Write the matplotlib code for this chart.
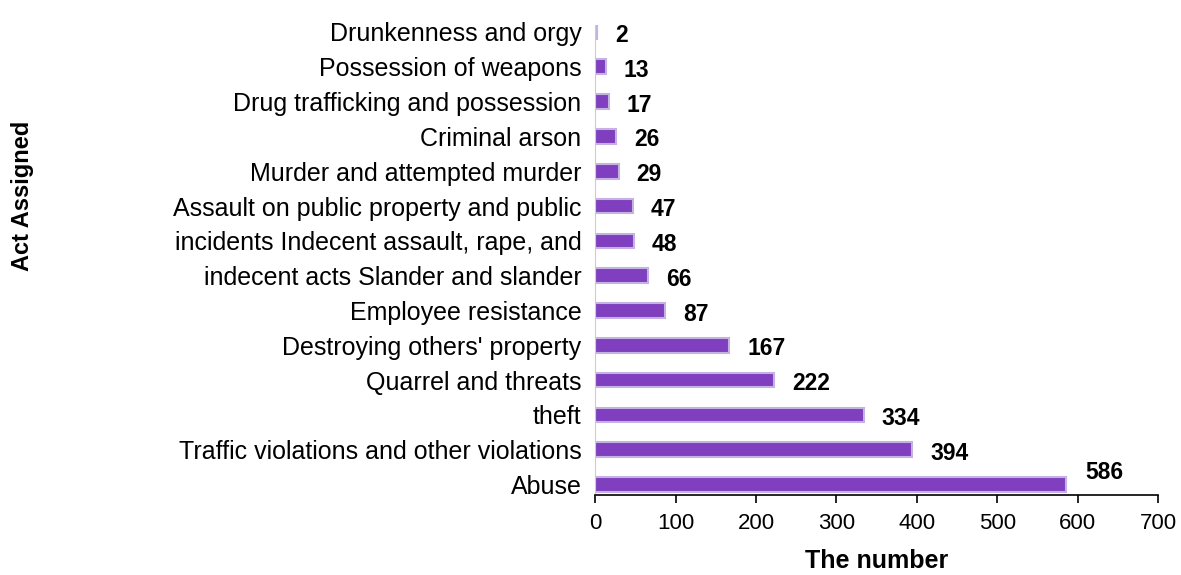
import numpy as np
import matplotlib
matplotlib.use("Agg")
import matplotlib.pyplot as plt

plt.rcParams['font.family'] = ['Liberation Sans', 'DejaVu Sans']

# categories from top to bottom as in the chart
acts = ["Drunkenness and orgy", "Possession of weapons", "Drug trafficking and possession",
        "Criminal arson", "Murder and attempted murder", "Assault on public property and public",
        "incidents Indecent assault, rape, and", "indecent acts Slander and slander",
        "Employee resistance", "Destroying others' property", "Quarrel and threats",
        "theft", "Traffic violations and other violations", "Abuse"]
counts = [2, 13, 17, 26, 29, 47, 48, 66, 87, 167, 222, 334, 394, 586]
xticks = [0, 100, 200, 300, 400, 500, 600, 700]

fig = plt.figure(figsize=(11.81, 5.75), dpi=100)
ax = fig.add_axes([0.504, 0.139, 0.4765, 0.8175])

y = np.arange(len(acts))[::-1]
ax.barh(y, counts, height=0.42, color='#7f3fbf', edgecolor='#c4b2e2', linewidth=1.5)

for yi, c in zip(y, counts):
    if yi == 0:
        ax.annotate(str(c), (c, yi), xytext=(14, 9), textcoords='offset points',
                    ha='left', va='center', fontsize=16.5, fontweight='bold')
    else:
        ax.annotate(str(c), (c, yi), xytext=(13, -2.5), textcoords='offset points',
                    ha='left', va='center', fontsize=16.5, fontweight='bold')

ax.set_yticks(y)
ax.set_yticklabels(acts, fontsize=18)
ax.tick_params(axis='y', length=0, pad=10)
ax.set_xticks(xticks)
ax.set_xticklabels([str(t) for t in xticks], fontsize=16)
ax.tick_params(axis='x', direction='out', length=6, width=1.2, pad=7)
ax.set_xlim(0, 700)
ax.set_ylim(-0.3, 13.2)

ax.spines['top'].set_visible(False)
ax.spines['right'].set_visible(False)
ax.spines['left'].set_color('#cccccc')
ax.spines['bottom'].set_linewidth(1.2)

fig.text(0.742, 0.012, "The number", fontsize=18, fontweight='bold', ha='center', va='baseline')
fig.text(0.019, 0.66, "Act Assigned", rotation=90, fontsize=17, fontweight='bold',
         ha='center', va='center')

fig.savefig("out.png", dpi=100)
